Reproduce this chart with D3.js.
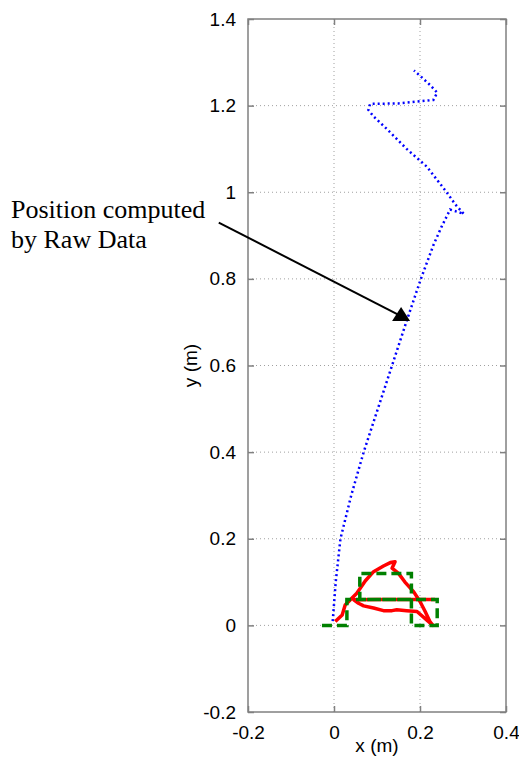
<!DOCTYPE html>
<html>
<head>
<meta charset="utf-8">
<script src="https://cdn.jsdelivr.net/npm/d3@7"></script>
<style>
  body { margin: 0; background: #fff; }
  svg { display: block; }
</style>
</head>
<body>
<svg id="chart"></svg>
<script>
// tick values
var xTicks = [-0.2, 0, 0.2, 0.4];
var yTicks = [-0.2, 0, 0.2, 0.4, 0.6, 0.8, 1, 1.2, 1.4];

// position computed by raw data (blue dotted)
var rawX = [-0.003, 0.004, 0.015, 0.04, 0.069, 0.102, 0.135, 0.168, 0.202, 0.232, 0.25, 0.27, 0.302, 0.282, 0.262, 0.216, 0.169, 0.123, 0.092, 0.08, 0.084, 0.15, 0.231, 0.24, 0.223, 0.2, 0.186];
var rawY = [0.01, 0.1, 0.2, 0.3, 0.4, 0.5, 0.6, 0.7, 0.8, 0.88, 0.92, 0.96, 0.95, 0.972, 1.0, 1.059, 1.1, 1.146, 1.175, 1.19, 1.204, 1.205, 1.213, 1.23, 1.248, 1.269, 1.281];

// estimated position (red solid)
var estX = [0.003, 0.019, 0.026, 0.038, 0.053, 0.073, 0.092, 0.115, 0.131, 0.142, 0.135, 0.15, 0.165, 0.185, 0.2, 0.212, 0.223, 0.23, 0.216, 0.193, 0.169, 0.146, 0.135, 0.115, 0.092, 0.069, 0.057, 0.046, 0.1, 0.17, 0.235];
var estY = [0.009, 0.024, 0.047, 0.059, 0.074, 0.103, 0.124, 0.137, 0.145, 0.147, 0.132, 0.12, 0.1, 0.078, 0.055, 0.032, 0.009, 0.0, 0.012, 0.032, 0.034, 0.036, 0.034, 0.034, 0.04, 0.045, 0.051, 0.059, 0.06, 0.06, 0.06];

// reference path (green dashed)
var refX = [-0.028, 0.03, 0.03, 0.24, 0.24, 0.18, 0.18, 0.06, 0.06, 0.18];
var refY = [0, 0, 0.06, 0.06, 0, 0, 0.12, 0.12, 0.06, 0.06];

// annotation arrow (data coords)
var arrowFrom = [-0.268, 0.93];
var arrowTo = [0.156, 0.714];
var noteLines = ["Position computed", "by Raw Data"];

var width = 519, height = 757;
var margin = { top: 19, right: 13, bottom: 45, left: 248 };

var svg = d3.select("#chart")
    .attr("width", width)
    .attr("height", height);

var x = d3.scaleLinear().domain([-0.2, 0.4]).range([margin.left, width - margin.right]);
var y = d3.scaleLinear().domain([-0.2, 1.4]).range([height - margin.bottom, margin.top]);

var axisColor = "#808080";

// grid
svg.append("g").selectAll("line")
    .data(xTicks.filter(function(d) { return d > -0.2 && d < 0.4; }))
    .enter().append("line")
    .attr("x1", function(d) { return x(d); })
    .attr("x2", function(d) { return x(d); })
    .attr("y1", y(-0.2)).attr("y2", y(1.4))
    .attr("stroke", "#a0a0a0").attr("stroke-width", 1)
    .attr("stroke-dasharray", "1,3");

svg.append("g").selectAll("line")
    .data(yTicks.filter(function(d) { return d > -0.2 && d < 1.4; }))
    .enter().append("line")
    .attr("y1", function(d) { return y(d); })
    .attr("y2", function(d) { return y(d); })
    .attr("x1", x(-0.2)).attr("x2", x(0.4))
    .attr("stroke", "#a0a0a0").attr("stroke-width", 1)
    .attr("stroke-dasharray", "1,3");

// axes (ticks inside, mirrored)
function styleAxis(g) {
    g.select(".domain").remove();
    g.selectAll(".tick line").attr("stroke", axisColor).attr("stroke-width", 1.5);
    g.selectAll(".tick text")
        .attr("fill", "#000")
        .style("font-family", "'Liberation Sans', Arial, sans-serif")
        .style("font-size", "19px");
}

// plain hyphen for negatives, like the original
var fmt = function(d) { return String(+d.toFixed(1)); };

svg.append("g")
    .attr("transform", "translate(0," + y(-0.2) + ")")
    .call(d3.axisBottom(x).tickValues(xTicks).tickSize(-6).tickPadding(14).tickFormat(fmt))
    .call(styleAxis);

svg.append("g")
    .attr("transform", "translate(0," + y(1.4) + ")")
    .call(d3.axisTop(x).tickValues(xTicks).tickSize(-6).tickFormat(""))
    .call(styleAxis);

svg.append("g")
    .attr("transform", "translate(" + x(-0.2) + ",0)")
    .call(d3.axisLeft(y).tickValues(yTicks).tickSize(-6).tickPadding(12).tickFormat(fmt))
    .call(styleAxis);

svg.append("g")
    .attr("transform", "translate(" + x(0.4) + ",0)")
    .call(d3.axisRight(y).tickValues(yTicks).tickSize(-6).tickFormat(""))
    .call(styleAxis);

// box
svg.append("rect")
    .attr("x", x(-0.2)).attr("y", y(1.4))
    .attr("width", x(0.4) - x(-0.2)).attr("height", y(-0.2) - y(1.4))
    .attr("fill", "none").attr("stroke", axisColor).attr("stroke-width", 1.5);

// series
var line = d3.line()
    .x(function(d) { return x(d[0]); })
    .y(function(d) { return y(d[1]); });

svg.append("path")
    .datum(d3.zip(rawX, rawY))
    .attr("d", line)
    .attr("fill", "none")
    .attr("stroke", "#0000ff")
    .attr("stroke-width", 2.5)
    .attr("stroke-dasharray", "2,3");

svg.append("path")
    .datum(d3.zip(estX, estY))
    .attr("d", line)
    .attr("fill", "none")
    .attr("stroke", "#ff0000")
    .attr("stroke-width", 3.5)
    .attr("stroke-linejoin", "round");

svg.append("path")
    .datum(d3.zip(refX, refY))
    .attr("d", line)
    .attr("fill", "none")
    .attr("stroke", "#008000")
    .attr("stroke-width", 3.5)
    .attr("stroke-dasharray", "10,5");

// axis labels
svg.append("text")
    .attr("x", (x(-0.2) + x(0.4)) / 2)
    .attr("y", 752)
    .attr("text-anchor", "middle")
    .style("font-family", "'Liberation Sans', Arial, sans-serif")
    .style("font-size", "19px")
    .text("x (m)");

svg.append("text")
    .attr("transform", "translate(197," + (y(-0.2) + y(1.4)) / 2 + ") rotate(-90)")
    .attr("text-anchor", "middle")
    .style("font-family", "'Liberation Sans', Arial, sans-serif")
    .style("font-size", "19px")
    .text("y (m)");

// annotation
svg.append("line")
    .attr("x1", x(arrowFrom[0])).attr("y1", y(arrowFrom[1]))
    .attr("x2", x(arrowTo[0])).attr("y2", y(arrowTo[1]))
    .attr("stroke", "#000").attr("stroke-width", 2);

svg.append("path")
    .attr("transform", "translate(" + x(arrowTo[0]) + "," + y(arrowTo[1]) + ")")
    .attr("d", "M0,-9 L9,5 L-9,5 Z")
    .attr("fill", "#000");

svg.append("g").selectAll("text")
    .data(noteLines)
    .enter().append("text")
    .attr("x", 11)
    .attr("y", function(d, i) { return 218 + i * 30; })
    .style("font-family", "'Liberation Serif', 'Times New Roman', serif")
    .style("font-size", "26px")
    .text(function(d) { return d; });
</script>
</body>
</html>
